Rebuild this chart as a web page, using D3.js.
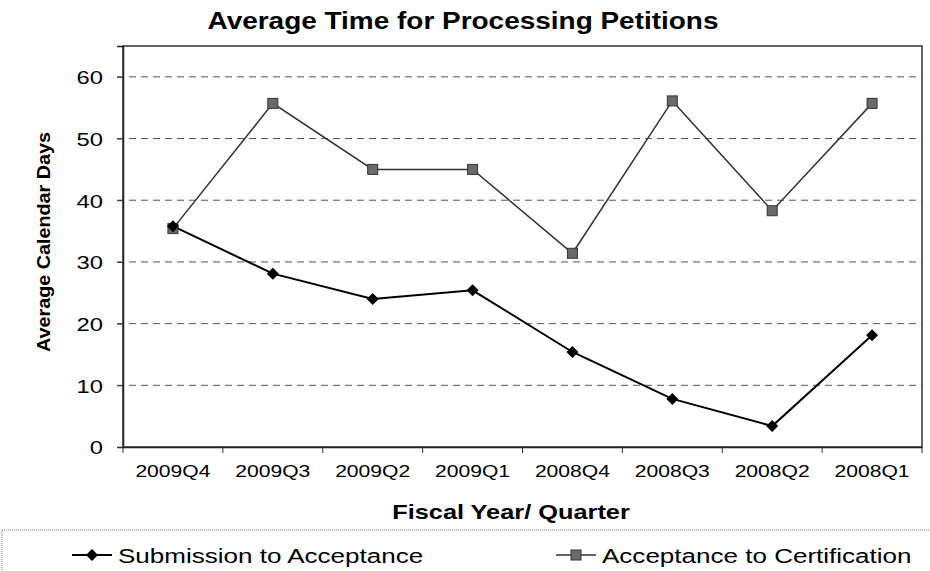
<!DOCTYPE html>
<html><head><meta charset="utf-8">
<script src="https://cdn.jsdelivr.net/npm/d3@7"></script>
<style>body{margin:0;background:#fff}svg{display:block}text{font-family:"Liberation Sans",Arial,sans-serif}</style>
</head><body><svg id="c" width="930" height="571"></svg>
<script>
const categories = ["2009Q4","2009Q3","2009Q2","2009Q1","2008Q4","2008Q3","2008Q2","2008Q1"];
const submissionToAcceptance = [35.8, 28.1, 24.0, 25.4, 15.4, 7.8, 3.4, 18.1];
const acceptanceToCertification = [35.4, 55.7, 45.0, 45.0, 31.4, 56.1, 38.3, 55.7];
const yTicks = [0,10,20,30,40,50,60];
const seriesNames = ["Submission to Acceptance","Acceptance to Certification"];

const svg = d3.select("#c");
const L=123, R=922, T=46, B=447;
const x = d3.scaleBand().domain(categories).range([L,R]);
const y = d3.scaleLinear().domain([0,65]).range([B,T]);

function stretch(sel, s){
  sel.each(function(){
    const t=d3.select(this); const ax=+t.attr("x")||0;
    t.attr("transform",`translate(${ax},0) scale(${s},1) translate(${-ax},0)`);
  });
}

stretch(svg.append("text").attr("x",463).attr("y",29).attr("text-anchor","middle")
  .attr("font-size",23.5).attr("font-weight","bold").text("Average Time for Processing Petitions"),1.19);

svg.append("g").selectAll("line").data(yTicks.filter(d=>d>0)).join("line")
  .attr("x1",L-6).attr("x2",R).attr("y1",d=>y(d)).attr("y2",d=>y(d))
  .attr("stroke","#555").attr("stroke-width",1).attr("stroke-dasharray","7,5");

svg.append("rect").attr("x",L).attr("y",T).attr("width",R-L).attr("height",B-T)
  .attr("fill","none").attr("stroke","#333").attr("stroke-width",1.5);

const ya = svg.append("g").attr("transform",`translate(${L},0)`)
  .call(d3.axisLeft(y).tickValues(yTicks).tickSize(6).tickPadding(14));
ya.select(".domain").attr("stroke","#222").attr("stroke-width",1.5);
ya.selectAll("line").attr("stroke","#333");
ya.selectAll("text").attr("font-size",19).attr("fill","#000").attr("font-family","Liberation Sans, Arial")
  .attr("dy","0.36em");
stretch(ya.selectAll("text"),1.25);

const xa = svg.append("g").attr("transform",`translate(0,${B})`)
  .call(d3.axisBottom(x).tickSize(0).tickPadding(18));
xa.select(".domain").attr("stroke","#222").attr("stroke-width",1.5);
xa.selectAll("text").attr("font-size",16.5).attr("fill","#000").attr("font-family","Liberation Sans, Arial");
stretch(xa.selectAll("text"),1.28);
const bounds = categories.map(c=>x(c)).concat([x(categories[categories.length-1])+x.bandwidth()]);
svg.append("g").selectAll("line").data(bounds).join("line")
  .attr("x1",d=>d).attr("x2",d=>d).attr("y1",B).attr("y2",B+6).attr("stroke","#333");

stretch(svg.append("text").attr("x",511).attr("y",519).attr("text-anchor","middle")
  .attr("font-size",19.5).attr("font-weight","bold").text("Fiscal Year/ Quarter"),1.3);
svg.append("text").attr("transform","translate(50,242) rotate(-90)").attr("text-anchor","middle")
  .attr("font-size",18).attr("font-weight","bold").attr("textLength",220).attr("lengthAdjust","spacingAndGlyphs")
  .text("Average Calendar Days");

const cx = d=>x(d)+x.bandwidth()/2;
const line = d3.line().x((d,i)=>cx(categories[i])).y(d=>y(d));

svg.append("path").datum(acceptanceToCertification).attr("d",line)
  .attr("fill","none").attr("stroke","#333").attr("stroke-width",1.5);
svg.append("path").datum(submissionToAcceptance).attr("d",line)
  .attr("fill","none").attr("stroke","#000").attr("stroke-width",2);

svg.append("g").selectAll("rect").data(acceptanceToCertification).join("rect")
  .attr("x",(d,i)=>cx(categories[i])-5).attr("y",d=>y(d)-5).attr("width",10).attr("height",10)
  .attr("fill","#6a6a6a").attr("stroke","#333").attr("stroke-width",1);
const diamondPath = "M0,-6L6,0L0,6L-6,0Z";
svg.append("g").selectAll("path").data(submissionToAcceptance).join("path")
  .attr("transform",(d,i)=>`translate(${cx(categories[i])},${y(d)})`).attr("d",diamondPath).attr("fill","#000");

svg.append("rect").attr("x",2).attr("y",530).attr("width",940).attr("height",70)
  .attr("fill","none").attr("stroke","#777").attr("stroke-dasharray","1,1");
const lg = [{x0:72, name:seriesNames[0], type:"d"},{x0:556, name:seriesNames[1], type:"s"}];
lg.forEach(o=>{
  const ly=555;
  svg.append("line").attr("x1",o.x0).attr("x2",o.x0+40).attr("y1",ly).attr("y2",ly)
    .attr("stroke",o.type==="d"?"#000":"#333").attr("stroke-width",o.type==="d"?2:1.5);
  if(o.type==="d") svg.append("path").attr("transform",`translate(${o.x0+20},${ly})`).attr("d",diamondPath).attr("fill","#000");
  else svg.append("rect").attr("x",o.x0+15).attr("y",ly-5).attr("width",10).attr("height",10).attr("fill","#6a6a6a").attr("stroke","#333");
  stretch(svg.append("text").attr("x",o.x0+46).attr("y",ly+8).attr("font-size",21).text(o.name),1.24);
});
</script></body></html>
